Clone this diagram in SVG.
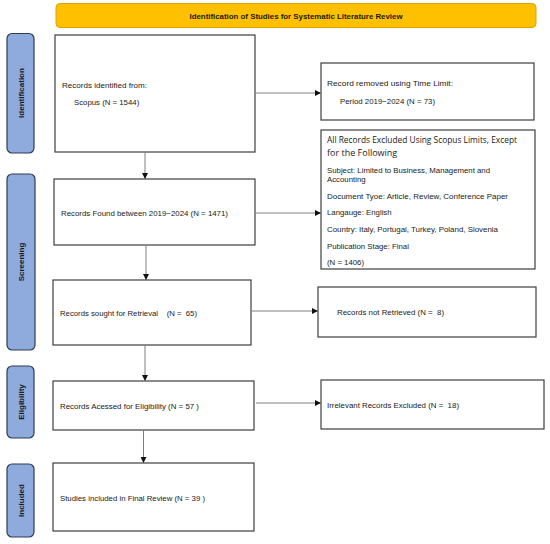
<svg xmlns="http://www.w3.org/2000/svg" width="550" height="544" viewBox="0 0 550 544">
<style>
.box{fill:#fff;stroke:#3f3f3f;stroke-width:1.2}
.side{fill:#8FAADC;stroke:#2F3B52;stroke-width:1.2}
.t{font-family:"Liberation Sans",Arial,sans-serif;font-size:7.8px;fill:#1a1a1a}
.st{font-family:"Liberation Sans",Arial,sans-serif;font-size:8px;font-weight:bold;fill:#1a1a1a;text-anchor:middle}
.big{font-family:"Open Sans","Liberation Sans",sans-serif;font-size:9px;fill:#1a1a1a}
.ln{stroke:#7f7f7f;stroke-width:1;fill:none;marker-end:url(#ah)}
</style>
<defs>
<marker id="ah" viewBox="0 0 6 6" refX="6" refY="3" markerWidth="6" markerHeight="6" markerUnits="userSpaceOnUse" orient="auto">
<path d="M0,0 L6,3 L0,6 Z" fill="#111"/>
</marker>
</defs>
<rect width="550" height="544" fill="#fff"/>
<g id="title">
<rect x="56" y="3.5" width="480" height="24" rx="4" fill="#FFC000" stroke="#D9A300" stroke-width="1"/>
<text x="296" y="18.5" class="st" font-size="7.5" textLength="213" lengthAdjust="spacingAndGlyphs">Identification of Studies for Systematic Literature Review</text>
</g>
<g id="side-identification">
<rect x="7" y="33.5" width="27" height="119.5" rx="5" class="side"/>
<text class="st" transform="translate(23.5,93) rotate(-90)">Identification</text>
</g>
<g id="side-screening">
<rect x="7" y="174" width="28" height="176" rx="5" class="side"/>
<text class="st" transform="translate(24,262) rotate(-90)">Screening</text>
</g>
<g id="side-eligibility">
<rect x="7" y="366" width="27" height="72" rx="5" class="side"/>
<text class="st" transform="translate(23.5,402) rotate(-90)">Eligibility</text>
</g>
<g id="side-included">
<rect x="7" y="464" width="27" height="73" rx="5" class="side"/>
<text class="st" transform="translate(23.5,500.5) rotate(-90)">Included</text>
</g>
<g id="box-identified">
<rect x="55" y="35" width="200" height="117" class="box"/>
<text x="62" y="88" class="t" textLength="85" lengthAdjust="spacingAndGlyphs">Records identified from:</text>
<text x="74" y="105" class="t">Scopus (N = 1544)</text>
</g>
<g id="box-removed">
<rect x="321" y="63" width="213" height="57" class="box"/>
<text x="327" y="86" class="t" textLength="126" lengthAdjust="spacingAndGlyphs">Record removed using Time Limit:</text>
<text x="340" y="104" class="t" textLength="95" lengthAdjust="spacingAndGlyphs">Period 2019−2024 (N = 73)</text>
</g>
<g id="box-excluded">
<rect x="321" y="130" width="214" height="139" class="box"/>
<text x="327" y="142.5" class="big" textLength="190" lengthAdjust="spacingAndGlyphs">All Records Excluded Using Scopus Limits, Except</text>
<text x="327" y="155.5" class="big">for the Following</text>
<text x="327" y="172.5" class="t" textLength="163" lengthAdjust="spacingAndGlyphs">Subject: Limited to Business, Management and</text>
<text x="327" y="182" class="t">Accounting</text>
<text x="327" y="199" class="t" textLength="181" lengthAdjust="spacingAndGlyphs">Document Tyoe: Article, Review, Conference Paper</text>
<text x="327" y="215" class="t">Langauge: English</text>
<text x="327" y="232" class="t" textLength="171" lengthAdjust="spacingAndGlyphs">Country: Italy, Portugal, Turkey, Poland, Slovenia</text>
<text x="327" y="249" class="t">Publication Stage: Final</text>
<text x="327" y="265" class="t">(N = 1406)</text>
</g>
<g id="box-found">
<rect x="54" y="179" width="201" height="66" class="box"/>
<text x="61" y="216" class="t" textLength="167" lengthAdjust="spacingAndGlyphs">Records Found between 2019−2024 (N = 1471)</text>
</g>
<g id="box-sought">
<rect x="53" y="280" width="198" height="65" class="box"/>
<text x="60" y="316" class="t" textLength="137" lengthAdjust="spacingAndGlyphs" xml:space="preserve">Records sought for Retrieval    (N =  65)</text>
</g>
<g id="box-not-retrieved">
<rect x="318" y="287" width="218" height="50" class="box"/>
<text x="337" y="315" class="t" textLength="107" lengthAdjust="spacingAndGlyphs" xml:space="preserve">Records not Retrieved (N =  8)</text>
</g>
<g id="box-assessed">
<rect x="53" y="381" width="201" height="49" class="box"/>
<text x="60" y="409" class="t" textLength="139" lengthAdjust="spacingAndGlyphs">Records Acessed for Eligibility (N = 57 )</text>
</g>
<g id="box-irrelevant">
<rect x="321" y="380" width="223" height="49" class="box"/>
<text x="327" y="408" class="t" textLength="132" lengthAdjust="spacingAndGlyphs" xml:space="preserve">Irrelevant Records Excluded (N =  18)</text>
</g>
<g id="box-included">
<rect x="53" y="463" width="201" height="68" class="box"/>
<text x="60" y="501" class="t" textLength="145" lengthAdjust="spacingAndGlyphs">Studies included in Final Review (N = 39 )</text>
</g>
<g id="connectors">
<path d="M255,93 H321" class="ln"/>
<path d="M145,152 V179" class="ln"/>
<path d="M255,213 H321" class="ln"/>
<path d="M146,245 V280" class="ln"/>
<path d="M251,311 H318" class="ln"/>
<path d="M145,345 V381" class="ln"/>
<path d="M256,403 H321" class="ln"/>
<path d="M143.5,430 V463" class="ln"/>
</g>
</svg>
